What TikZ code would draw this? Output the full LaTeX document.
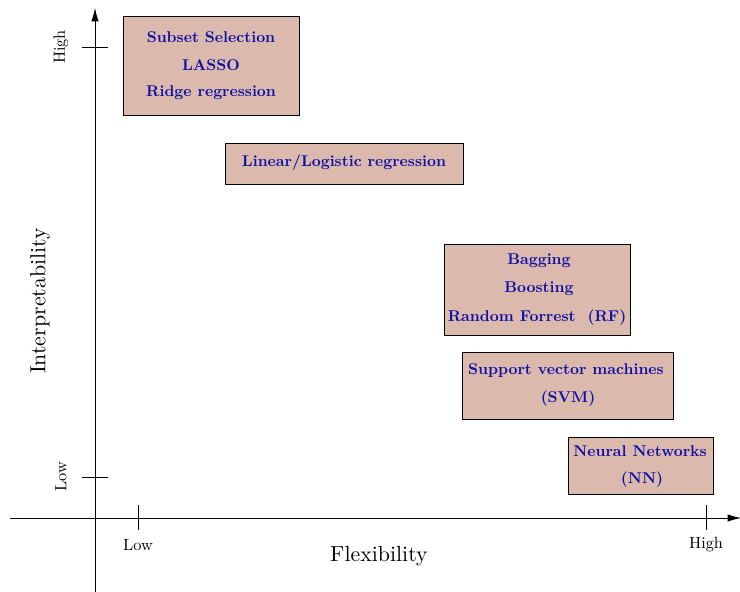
\documentclass[tikz,border=0pt]{standalone}
\usetikzlibrary{arrows.meta}
\definecolor{boxfill}{RGB}{219,185,172}
\definecolor{boxtext}{RGB}{15,15,165}
\newcommand{\bxt}[1]{\scalebox{1.17}{\bfseries #1}}
\newcommand{\tkt}[1]{\scalebox{1.22}{#1}}
\newcommand{\axt}[1]{\scalebox{1.64}{#1}}
\begin{document}
\begin{tikzpicture}[x=0.75pt,y=-0.75pt,
  axis/.style={line width=0.6pt,-{Latex[length=10pt,width=5.5pt]}},
  tick/.style={line width=0.6pt},
  methodbox/.style={draw=black,line width=0.6pt,fill=boxfill,rectangle,inner sep=0pt},
  methodtext/.style={text=boxtext,align=center,inner sep=0pt},
  ticklabel/.style={inner sep=0pt},
  axislabel/.style={inner sep=0pt}]
\useasboundingbox (0,0) rectangle (740,592);
% axes
\coordinate (xs) at (10,518);
\coordinate (xe) at (741,518);
\coordinate (ys) at (95,592);
\coordinate (ye) at (95,8);
\draw[axis] (xs) -- (xe);
\draw[axis] (ys) -- (ye);
% ticks
\coordinate (yh1) at (82,47); \coordinate (yh2) at (108,47);
\coordinate (yl1) at (82,477); \coordinate (yl2) at (108,477);
\coordinate (xl1) at (138,505); \coordinate (xl2) at (138,530);
\coordinate (xh1) at (706,505); \coordinate (xh2) at (706,530);
\draw[tick] (yh1) -- (yh2);
\draw[tick] (yl1) -- (yl2);
\draw[tick] (xl1) -- (xl2);
\draw[tick] (xh1) -- (xh2);
\node[ticklabel,rotate=90] (yhigh) at (61,47) {\tkt{High}};
\node[ticklabel,rotate=90] (ylow) at (61,477) {\tkt{Low}};
\node[ticklabel] (xlow) at (138,545) {\tkt{Low}};
\node[ticklabel] (xhigh) at (706,545) {\tkt{High}};
\node[axislabel] (flex) at (379,556) {\axt{Flexibility}};
\node[axislabel,rotate=90] (interp) at (40,301) {\axt{Interpretability}};
% boxes
\draw[methodbox] (123,16) rectangle (299,115);
\node[methodtext] (b1a) at (211,37) {\bxt{Subset Selection}};
\node[methodtext] (b1b) at (211,65) {\bxt{LASSO}};
\node[methodtext] (b1c) at (211,93) {\bxt{Ridge regression}};
\draw[methodbox] (225,143) rectangle (463,184);
\node[methodtext] (b2a) at (344,163) {\bxt{Linear/Logistic regression}};
\draw[methodbox] (444,244) rectangle (630,335);
\node[methodtext] (b3a) at (539,261) {\bxt{Bagging}};
\node[methodtext] (b3b) at (539,289) {\bxt{Boosting}};
\node[methodtext] (b3c) at (537,318) {\bxt{Random Forrest\ \ (RF)}};
\draw[methodbox] (462,352) rectangle (673,419);
\node[methodtext] (b4a) at (566,371) {\bxt{Support vector machines}};
\node[methodtext] (b4b) at (568,399) {\bxt{(SVM)}};
\draw[methodbox] (568,437) rectangle (713,494);
\node[methodtext] (b5a) at (640,451) {\bxt{Neural Networks}};
\node[methodtext] (b5b) at (642,480) {\bxt{(NN)}};
\end{tikzpicture}
\end{document}
